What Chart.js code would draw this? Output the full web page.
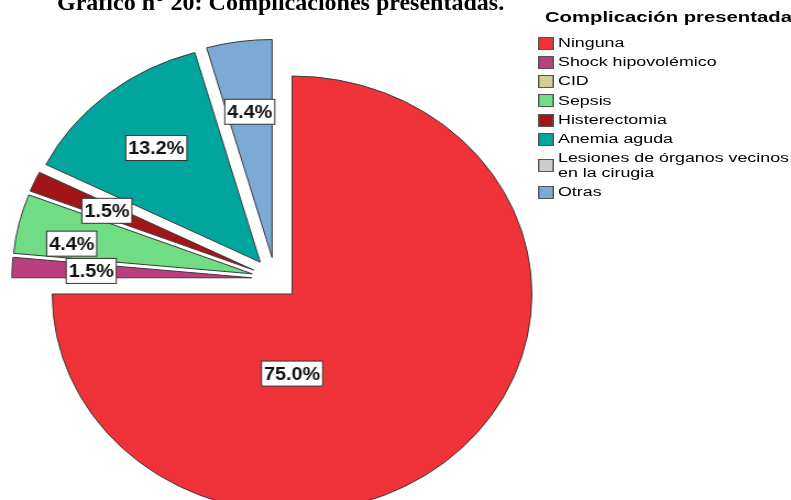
<!DOCTYPE html>
<html lang="es">
<head>
<meta charset="utf-8">
<title>Complicaciones presentadas</title>
<script src="https://cdn.jsdelivr.net/npm/chart.js@4.4.1/dist/chart.umd.min.js"></script>
<style>
    html, body { margin: 0; padding: 0; background: #fff; }
    body { width: 791px; height: 500px; overflow: hidden; position: relative; }
    #plot { position: absolute; left: 0; top: 0; transform: scaleX(1.1); transform-origin: 0 0; }
    #title {
        position: absolute; left: 57px; top: -10px; margin: 0;
        font: bold 24px/24px "Liberation Serif", "Times New Roman", serif;
        white-space: nowrap; color: #000;
    }
    #legend {
        position: absolute; left: 538px; top: 0; width: 175px; height: 210px;
        transform: scaleX(1.45); transform-origin: 0 0;
        font-family: "Liberation Sans", Arial, sans-serif; color: #000;
    }
    #legend h2 {
        position: absolute; left: 4.8px; top: 9.6px; margin: 0;
        font: bold 14px/14px "Liberation Sans", Arial, sans-serif; white-space: nowrap;
    }
    #legend ul { position: absolute; left: 0; top: 36px; margin: 0; padding: 0; list-style: none; }
    #legend li { display: flex; align-items: center; margin-bottom: 4.8px; font-size: 12.3px; line-height: 14.4px; }
    #legend .box { flex: 0 0 auto; width: 11px; height: 13px; box-sizing: border-box; border: 1px solid #555; margin-right: 2.8px; }
    #legend .name { white-space: nowrap; }
</style>
</head>
<body>
<div id="plot"><canvas id="pie" width="720" height="540"></canvas></div>
<div id="title">Gráfico n° 20: Complicaciones presentadas.</div>
<div id="legend"><h2>Complicación presentada</h2><ul id="legendItems"></ul></div>
<script>
const categories = [
    'Ninguna',
    'Shock hipovolémico',
    'CID',
    'Sepsis',
    'Histerectomia',
    'Anemia aguda',
    ['Lesiones de órganos vecinos', 'en la cirugia'],
    'Otras',
]
const percentages = [75.0, 1.5, 0, 4.4, 1.5, 13.2, 0, 4.4]
const sliceColors = ['#ef3338', '#bb3f7f', '#d3ce97', '#70dc84', '#a21619', '#00a59d', '#cccccc', '#7aaad5']

// percentage boxes: how far out from the slice tip (share of the radius)
// and how many degrees they turn away from the slice's middle
const labelReach = [0.365, 0.67, 0.67, 0.766, 0.67, 0.68, 0.67, 0.675]
const labelTurn = [45, 0, 0, -2.9, 0, 0, 0, 0]

// pulls every slice out along its own middle, all by the same distance
const explodeSlices = {
    id: 'explodeSlices',
    afterDatasetsUpdate(chart, args, opts) {
        chart.getDatasetMeta(0).data.forEach(arc => {
            const mid = (arc.startAngle + arc.endAngle) / 2
            arc.x += Math.cos(mid) * opts.distance
            arc.y += Math.sin(mid) * opts.distance
        })
    },
}

const percentBoxes = {
    id: 'percentBoxes',
    afterDatasetsDraw(chart) {
        const ctx = chart.ctx
        ctx.save()
        ctx.font = 'bold 18px "Liberation Sans", Arial, sans-serif'
        ctx.textAlign = 'center'
        ctx.textBaseline = 'middle'
        chart.getDatasetMeta(0).data.forEach((arc, i) => {
            const value = percentages[i]
            if (!value) return
            const text = value.toFixed(1) + '%'
            const angle = (arc.startAngle + arc.endAngle) / 2 + labelTurn[i] * Math.PI / 180
            const reach = arc.outerRadius * labelReach[i]
            const x = arc.x + Math.cos(angle) * reach
            const y = arc.y + Math.sin(angle) * reach
            const w = ctx.measureText(text).width + 4.5
            const h = 25
            ctx.fillStyle = '#fff'
            ctx.fillRect(x - w / 2, y - h / 2, w, h)
            ctx.strokeStyle = '#333'
            ctx.lineWidth = 1
            ctx.strokeRect(x - w / 2, y - h / 2, w, h)
            ctx.fillStyle = '#111'
            ctx.fillText(text, x, y + 1)
        })
        ctx.restore()
    },
}

new Chart(document.getElementById('pie'), {
    type: 'pie',
    data: {
        labels: categories,
        datasets: [{
            data: percentages,
            backgroundColor: sliceColors,
            borderColor: '#3a3a3a',
            borderWidth: c => (percentages[c.dataIndex] > 0 ? 1 : 0),
        }],
    },
    options: {
        responsive: false,
        devicePixelRatio: 1,
        animation: false,
        events: [],
        radius: 218,
        layout: { padding: { left: 20.3, top: 48.8, right: 239.7, bottom: 31.2 } },
        plugins: {
            legend: { display: false },
            tooltip: { enabled: false },
            explodeSlices: { distance: 21.5 },
        },
    },
    plugins: [explodeSlices, percentBoxes],
})

// legend to the right, one row per category
const list = document.getElementById('legendItems')
categories.forEach((name, i) => {
    const li = document.createElement('li')
    const box = document.createElement('span')
    box.className = 'box'
    box.style.background = sliceColors[i]
    const label = document.createElement('span')
    label.className = 'name'
    label.innerHTML = [].concat(name).join('<br>')
    li.appendChild(box)
    li.appendChild(label)
    list.appendChild(li)
})
</script>
</body>
</html>
